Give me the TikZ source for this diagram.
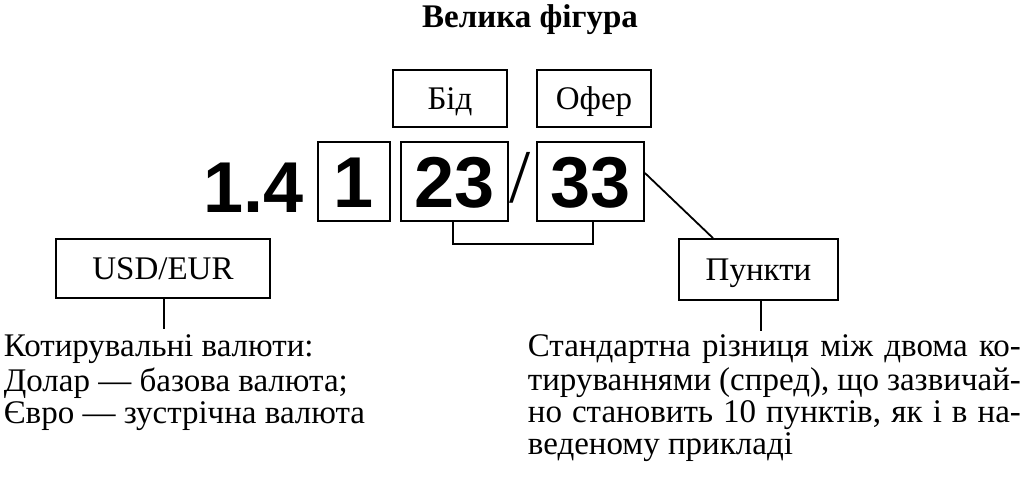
\documentclass[tikz,border=0pt]{standalone}
\usepackage{fontspec}
\setmainfont{Liberation Serif}
\newfontfamily\numfont{Liberation Sans}
\begin{document}
\begin{tikzpicture}[x=1pt,y=-1pt,line width=1.8pt,
  lbl/.style={draw,font=\fontsize{33}{33}\selectfont,text height=22pt,text depth=0pt,inner sep=0pt},
  digit/.style={draw,font=\numfont\bfseries\fontsize{72}{72}\selectfont,text height=52pt,text depth=0pt,inner sep=0pt,minimum height=79pt},
  bignum/.style={font=\numfont\bfseries\fontsize{72}{72}\selectfont,inner sep=0pt},
  para/.style={font=\fontsize{33}{32.2}\selectfont,inner sep=0pt,anchor=north west}]
\useasboundingbox (0,0) rectangle (1024,477);
\node[font=\bfseries\fontsize{33}{33}\selectfont,anchor=base] (title) at (530,27) {Велика фігура};
\node[lbl,minimum width=114pt,minimum height=57pt] (bid) at (450,98.5) {Бід};
\node[lbl,minimum width=114pt,minimum height=57pt] (ofer) at (594,98.5) {Офер};
\node[bignum,anchor=base] (whole) at (253.5,212) {1.4};
\node[digit,minimum width=72pt] (d1) at (354,181.5) {1};
\node[digit,minimum width=107pt] (d23) at (454.5,181.5) {23};
\node[font=\fontsize{76}{76}\selectfont,inner sep=0pt,anchor=base] (slash) at (520,202) {/};
\node[digit,minimum width=107pt] (d33) at (590.5,181.5) {33};
\node[lbl,minimum width=214pt,minimum height=59pt] (usd) at (163,268.5) {USD/EUR};
\node[lbl,minimum width=159pt,minimum height=61pt] (pk) at (758.5,269.5) {Пункти};
\coordinate (usdend) at (164,329);
\coordinate (pkend) at (761,331);
\draw ([xshift=1pt]usd.south) -- (usdend);
\draw ([xshift=2.5pt]pk.south) -- (pkend);
\draw ([xshift=-1.5pt]d23.south) -- ++(0,22) -| ([xshift=2.5pt]d33.south);
\draw ([yshift=8.5pt]d33.east) -- ([xshift=-45.5pt]pk.north);
\node[para,align=left] (left) at (3,333.5) {\strut Котирувальні валюти:\\Долар — базова валюта;\\Євро — зустрічна валюта};
\node[para,text width=493pt] (right) at (527,333.5) {\spaceskip=0.25em plus 1em minus 0.2em
\makebox[\linewidth][s]{\strut Стандартна різниця між двома ко-}\\
\makebox[\linewidth][s]{тируваннями (спред), що зазвичай-}\\
\makebox[\linewidth][s]{но становить 10 пунктів, як і в на-}\\
веденому прикладі};
\end{tikzpicture}
\end{document}
